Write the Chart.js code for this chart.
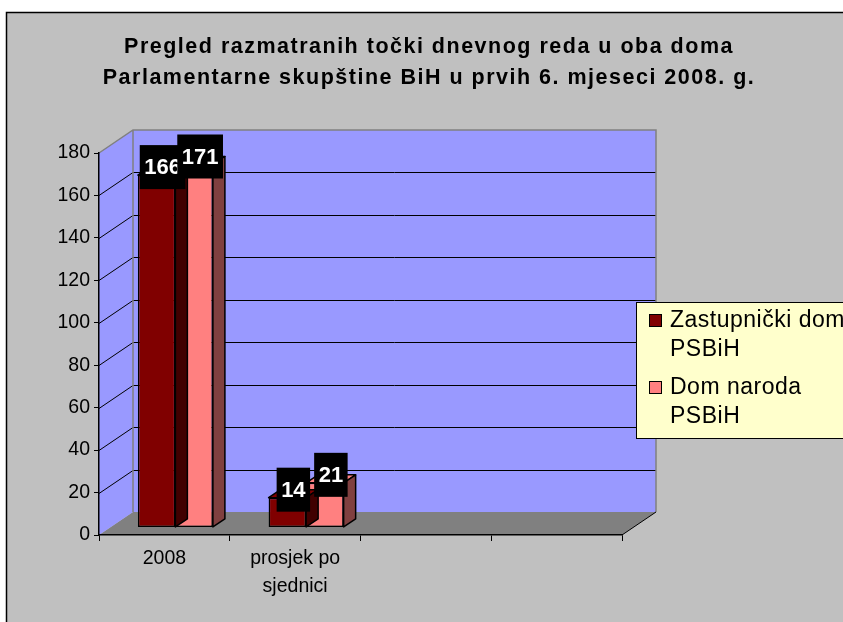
<!DOCTYPE html>
<html>
<head>
<meta charset="utf-8">
<script src="https://cdn.jsdelivr.net/npm/chart.js@4.4.1/dist/chart.umd.min.js"></script>
<style>
  html, body { margin: 0; padding: 0; background: #fff; }
</style>
</head>
<body>
<canvas id="grafikon" width="843" height="622"></canvas>
<script>
// podaci
const kategorije = ["2008", ["prosjek po", "sjednici"], "", ""];
const zastupnickiDom = [166, 14, null, null];
const domNaroda = [171, 21, null, null];
const serije = [["Zastupnički dom", "PSBiH"], ["Dom naroda", "PSBiH"]];
const naslov = [
  "Pregled razmatranih točki dnevnog reda u oba doma",
  "Parlamentarne skupštine BiH u prvih 6. mjeseci 2008. g."
];
const yMin = 0, yMax = 180, yKorak = 20;

// izgled
const FONT = "'Liberation Sans', Arial, sans-serif";
const ZID = { x: 34, y: -23 };    // pomak zadnjeg zida
const STUB = { x: 11, y: -7.6 };  // pomak prednje strane stubova
const DUB = { x: 12, y: -8 };     // dubina stuba
const boje = ["#800000", "#ff8080"];
const bojeBoka = ["#400000", "#804040"];

const poligon = (ctx, tacke, boja) => {
  ctx.beginPath();
  tacke.forEach(([x, y], i) => (i ? ctx.lineTo(x, y) : ctx.moveTo(x, y)));
  ctx.closePath();
  ctx.fillStyle = boja;
  ctx.fill();
};

const efekat3D = {
  id: "efekat3D",
  beforeDraw(chart) {
    const { ctx, chartArea: a } = chart;
    const ys = chart.scales.y;
    ctx.save();
    ctx.fillStyle = "#fff";
    ctx.fillRect(0, 0, chart.width, chart.height);
    ctx.fillStyle = "#c0c0c0";
    ctx.fillRect(6.5, 12.5, chart.width, chart.height);
    ctx.strokeStyle = "#000";
    ctx.lineWidth = 1.5;
    ctx.strokeRect(6.5, 12.5, chart.width, chart.height);

    // pod i zidovi
    poligon(ctx, [[a.left, a.bottom], [a.right, a.bottom], [a.right + ZID.x, a.bottom + ZID.y], [a.left + ZID.x, a.bottom + ZID.y]], "#808080");
    poligon(ctx, [[a.left, a.top], [a.left + ZID.x, a.top + ZID.y], [a.left + ZID.x, a.bottom + ZID.y], [a.left, a.bottom]], "#9999ff");
    ctx.fillStyle = "#9999ff";
    ctx.fillRect(a.left + ZID.x, a.top + ZID.y, a.right - a.left, a.bottom - a.top);

    // mreza
    ctx.strokeStyle = "#000";
    ctx.lineWidth = 1;
    ys.ticks.forEach((t) => {
      if (t.value === yMin || t.value === yMax) return;
      const py = Math.round(ys.getPixelForValue(t.value)) + 0.5;
      ctx.beginPath();
      ctx.moveTo(a.left, py);
      ctx.lineTo(a.left + ZID.x, py + ZID.y);
      ctx.lineTo(a.right + ZID.x, py + ZID.y);
      ctx.stroke();
    });

    // rubovi zidova
    ctx.strokeStyle = "#808080";
    ctx.lineWidth = 1.5;
    ctx.beginPath();
    ctx.moveTo(a.left, a.top);
    ctx.lineTo(a.left + ZID.x, a.top + ZID.y);
    ctx.lineTo(a.right + ZID.x, a.top + ZID.y);
    ctx.lineTo(a.right + ZID.x, a.bottom + ZID.y);
    ctx.moveTo(a.left + ZID.x, a.top + ZID.y);
    ctx.lineTo(a.left + ZID.x, a.bottom + ZID.y);
    ctx.stroke();
    ctx.strokeStyle = "#000";
    ctx.lineWidth = 1;
    ctx.beginPath();
    ctx.moveTo(a.right, a.bottom);
    ctx.lineTo(a.right + ZID.x, a.bottom + ZID.y);
    ctx.stroke();

    // naslov
    ctx.fillStyle = "#000";
    ctx.font = "bold 21.5px " + FONT;
    ctx.letterSpacing = "1.5px";
    ctx.textAlign = "center";
    ctx.textBaseline = "alphabetic";
    naslov.forEach((red, i) => ctx.fillText(red, 429, 53 + i * 30.6));
    ctx.restore();
  },
  beforeDatasetsDraw(chart) {
    chart.ctx.save();
    chart.ctx.translate(STUB.x, STUB.y);
  },
  afterDatasetDraw(chart, args) {
    const { ctx } = chart;
    const i = args.index;
    const vrijednosti = chart.data.datasets[i].data;
    ctx.save();
    ctx.strokeStyle = "#000";
    ctx.lineWidth = 1.5;
    ctx.lineJoin = "round";
    args.meta.data.forEach((el, j) => {
      if (vrijednosti[j] === null) return;
      const { x, y, base, width } = el.getProps(["x", "y", "base", "width"], true);
      const l = x - width / 2, r = x + width / 2;
      const vrh = [[l, y], [r, y], [r + DUB.x, y + DUB.y], [l + DUB.x, y + DUB.y]];
      const bok = [[r, y], [r + DUB.x, y + DUB.y], [r + DUB.x, base + DUB.y], [r, base]];
      poligon(ctx, vrh, boje[i]);
      ctx.stroke();
      poligon(ctx, bok, bojeBoka[i]);
      ctx.stroke();
    });
    ctx.restore();
  },
  afterDatasetsDraw(chart) {
    chart.ctx.restore();
  },
  afterDraw(chart) {
    const { ctx } = chart;
    ctx.save();
    // oznake vrijednosti
    ctx.font = "bold 22px " + FONT;
    ctx.textAlign = "center";
    ctx.textBaseline = "middle";
    chart.data.datasets.forEach((ds, i) => {
      chart.getDatasetMeta(i).data.forEach((el, j) => {
        const v = ds.data[j];
        if (v === null) return;
        const cx = el.x + STUB.x + DUB.x / 2;
        const cy = el.y + STUB.y + DUB.y;
        const tekst = String(v);
        const w = ctx.measureText(tekst).width + 9;
        ctx.fillStyle = "#000";
        ctx.fillRect(cx - w / 2, cy - 22, w, 44);
        ctx.fillStyle = "#fff";
        ctx.fillText(tekst, cx, cy + 1);
      });
    });

    // legenda
    ctx.fillStyle = "#ffffcc";
    ctx.fillRect(636.5, 302.5, 260, 136);
    ctx.strokeStyle = "#000";
    ctx.lineWidth = 1;
    ctx.strokeRect(636.5, 302.5, 260, 136);
    ctx.font = "23px " + FONT;
    ctx.letterSpacing = "0.5px";
    ctx.textAlign = "left";
    ctx.textBaseline = "alphabetic";
    serije.forEach((redovi, i) => {
      const y0 = 327 + i * 67;
      ctx.fillStyle = chart.data.datasets[i].backgroundColor;
      ctx.fillRect(649.5, y0 - 12.5, 12, 12);
      ctx.strokeRect(649.5, y0 - 12.5, 12, 12);
      ctx.fillStyle = "#000";
      redovi.forEach((red, k) => ctx.fillText(red, 670, y0 + k * 28.5));
    });
    ctx.restore();
  }
};

new Chart(document.getElementById("grafikon"), {
  type: "bar",
  data: {
    labels: kategorije,
    datasets: [
      { label: serije[0].join(" "), data: zastupnickiDom, backgroundColor: boje[0] },
      { label: serije[1].join(" "), data: domNaroda, backgroundColor: boje[1] }
    ]
  },
  options: {
    responsive: false,
    animation: false,
    devicePixelRatio: 1,
    layout: { padding: { left: 39, right: 221, top: 153, bottom: 0 } },
    datasets: {
      bar: {
        categoryPercentage: 0.574,
        barPercentage: 1,
        borderColor: "#000",
        borderWidth: 1.5,
        borderSkipped: false,
        clip: false
      }
    },
    plugins: {
      legend: { display: false },
      title: { display: false },
      tooltip: { enabled: false }
    },
    scales: {
      x: {
        afterFit: (s) => { s.height = 87; },
        grid: { offset: true, drawOnChartArea: false, tickLength: 6, color: "#000", lineWidth: 1 },
        border: { color: "#000", width: 1.5 },
        ticks: { color: "#000", padding: 4, maxRotation: 0, autoSkip: false, font: { family: FONT, size: 19.5, lineHeight: 1.44 } }
      },
      y: {
        min: yMin,
        max: yMax,
        afterFit: (s) => { s.width = 60; },
        grid: { drawOnChartArea: false, tickLength: 5, color: "#000", lineWidth: 1 },
        border: { color: "#000", width: 1.5 },
        ticks: { stepSize: yKorak, color: "#000", padding: 4, font: { family: FONT, size: 19.5 } }
      }
    }
  },
  plugins: [efekat3D]
});
</script>
</body>
</html>
